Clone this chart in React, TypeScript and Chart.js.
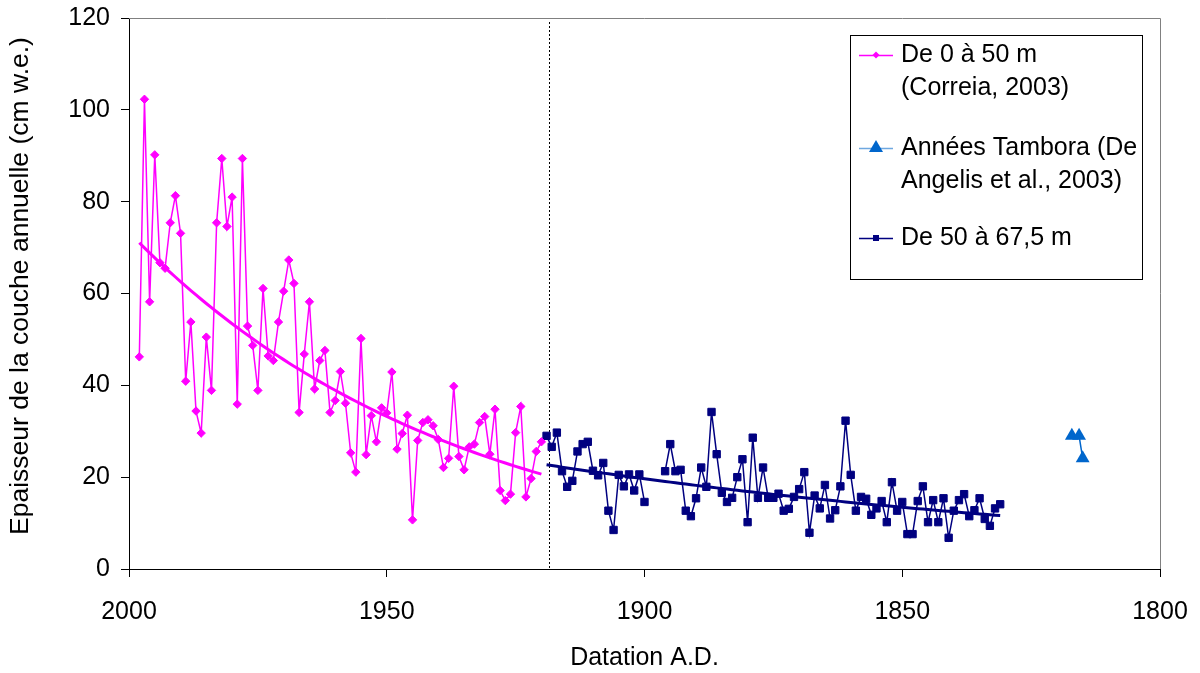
import React, { useEffect, useRef } from 'react';
import { Chart, registerables } from 'chart.js';

Chart.register(...registerables);

// ---------- DATA ----------
const magentaYears = [
  1998, 1997, 1996, 1995, 1994, 1993, 1992, 1991, 1990, 1989,
  1988, 1987, 1986, 1985, 1984, 1983, 1982, 1981, 1980, 1979,
  1978, 1977, 1976, 1975, 1974, 1973, 1972, 1971, 1970, 1969,
  1968, 1967, 1966, 1965, 1964, 1963, 1962, 1961, 1960, 1959,
  1958, 1957, 1956, 1955, 1954, 1953, 1952, 1951, 1950, 1949,
  1948, 1947, 1946, 1945, 1944, 1943, 1942, 1941, 1940, 1939,
  1938, 1937, 1936, 1935, 1934, 1933, 1932, 1931, 1930, 1929,
  1928, 1927, 1926, 1925, 1924, 1923, 1922, 1921, 1920,
];
const magentaValues = [
  46.2, 102.3, 58.2, 90.2, 66.7, 65.5, 75.4, 81.3, 73.1, 40.9,
  53.8, 34.4, 29.6, 50.5, 38.9, 75.4, 89.4, 74.6, 81.0, 35.9,
  89.4, 52.9, 48.7, 38.9, 61.1, 46.4, 45.4, 53.8, 60.5, 67.3,
  62.2, 34.1, 46.8, 58.2, 39.2, 45.4, 47.6, 34.1, 36.7, 43.0,
  36.1, 25.3, 21.1, 50.2, 24.9, 33.4, 27.7, 35.1, 34.0, 42.9,
  26.1, 29.5, 33.5, 10.7, 28.0, 31.9, 32.5, 31.2, 28.2, 22.1,
  24.1, 39.8, 24.5, 21.6, 26.6, 27.2, 31.9, 33.2, 25.0, 34.8,
  17.1, 14.9, 16.3, 29.7, 35.4, 15.7, 19.7, 25.6, 27.7,
];

const navyYears = [
  1919, 1918, 1917, 1916, 1915, 1914, 1913, 1912, 1911, 1910,
  1909, 1908, 1907, 1906, 1905, 1904, 1903, 1902, 1901, 1900,
  1899, 1898, 1897, 1896, 1895, 1894, 1893, 1892, 1891, 1890,
  1889, 1888, 1887, 1886, 1885, 1884, 1883, 1882, 1881, 1880,
  1879, 1878, 1877, 1876, 1875, 1874, 1873, 1872, 1871, 1870,
  1869, 1868, 1867, 1866, 1865, 1864, 1863, 1862, 1861, 1860,
  1859, 1858, 1857, 1856, 1855, 1854, 1853, 1852, 1851, 1850,
  1849, 1848, 1847, 1846, 1845, 1844, 1843, 1842, 1841, 1840,
  1839, 1838, 1837, 1836, 1835, 1834, 1833, 1832, 1831,
];
const navyValues: (number | null)[] = [
  29.0, 26.6, 29.7, 21.3, 17.9, 19.2, 25.6, 27.2, 27.7, 21.4,
  20.4, 23.1, 12.7, 8.5, 20.5, 18.0, 20.6, 17.1, 20.6, 14.6,
  null, null, null, 21.3, 27.2, 21.3, 21.6, 12.7, 11.5, 15.4,
  22.1, 17.9, 34.2, 25.0, 16.6, 14.6, 15.5, 20.0, 23.9, 10.2,
  28.6, 15.5, 22.1, 15.5, 15.5, 16.4, 12.7, 13.1, 15.7, 17.4,
  21.1, 7.9, 16.0, 13.2, 18.3, 11.0, 12.8, 18.0, 32.3, 20.5,
  12.7, 15.7, 15.3, 11.8, 13.2, 14.8, 10.2, 18.9, 12.7, 14.6,
  7.6, 7.6, 14.8, 18.0, 10.2, 15.0, 10.2, 15.4, 6.8, 12.7,
  15.0, 16.3, 11.5, 12.8, 15.4, 10.9, 9.4, 13.2, 14.1,
];

const tamboraYears = [1817.1, 1815.7, 1815.0];
const tamboraValues = [29.0, 29.0, 24.1];

const dividerYear = 1918.5;

const xTicks = [2000, 1950, 1900, 1850, 1800];
const yTicks = [0, 20, 40, 60, 80, 100, 120];

const legendLabels = [
  ['De 0 à 50 m', '(Correia, 2003)'],
  ['Années Tambora (De', 'Angelis et al., 2003)'],
  ['De 50 à 67,5 m'],
];

const xTitle = 'Datation A.D.';
const yTitle = 'Epaisseur de la couche annuelle (cm w.e.)';

const MAGENTA = '#FF00FF';
const NAVY = '#000080';
const BLUE = '#0066CC';
const FONT = '"Liberation Sans", Arial, sans-serif';

// ---------- helpers ----------
function toPoints(xs: number[], ys: (number | null)[]) {
  return xs.map((x, i) => ({ x, y: ys[i] }));
}

// exponential least-squares trend (as a spreadsheet trendline)
function expTrend(xs: number[], ys: (number | null)[]) {
  const pts = xs
    .map((x, i) => [x, ys[i]] as [number, number | null])
    .filter((p) => p[1] != null && (p[1] as number) > 0) as [number, number][];
  const n = pts.length;
  const mx = pts.reduce((s, p) => s + p[0], 0) / n;
  let sx = 0, sy = 0, sxx = 0, sxy = 0;
  for (const [x0, y] of pts) {
    const x = x0 - mx;
    const ly = Math.log(y);
    sx += x; sy += ly; sxx += x * x; sxy += x * ly;
  }
  const b = (n * sxy - sx * sy) / (n * sxx - sx * sx);
  const a = (sy - b * sx) / n;
  return pts.map(([x]) => ({ x, y: Math.exp(a + b * (x - mx)) }));
}

const framePlugin = {
  id: 'frameAndDivider',
  beforeDatasetsDraw(chart: any) {
    const { ctx, chartArea } = chart;
    const { left, right, top, bottom } = chartArea;
    ctx.save();
    // plot area border (top and right, grey)
    ctx.strokeStyle = '#808080';
    ctx.lineWidth = 1;
    ctx.beginPath();
    ctx.moveTo(left, top + 0.5);
    ctx.lineTo(right + 0.5, top + 0.5);
    ctx.lineTo(right + 0.5, bottom);
    ctx.stroke();
    // dotted divider
    const x = Math.round(chart.scales.x.getPixelForValue(dividerYear)) + 0.5;
    ctx.strokeStyle = '#000';
    ctx.setLineDash([2, 2]);
    ctx.beginPath();
    ctx.moveTo(x, top + 4);
    ctx.lineTo(x, bottom);
    ctx.stroke();
    ctx.restore();
  },
  afterDraw(chart: any) {
    // y axis title
    const ctx = chart.ctx;
    ctx.save();
    ctx.translate(21, 286);
    ctx.rotate(-Math.PI / 2);
    ctx.font = `26.5px ${FONT}`;
    ctx.fillStyle = '#000';
    ctx.textAlign = 'center';
    ctx.textBaseline = 'middle';
    ctx.fillText(yTitle, 0, 0);
    ctx.restore();
  },
};

const legendPlugin = {
  id: 'boxLegend',
  afterDraw(chart: any) {
    const ctx = chart.ctx;
    ctx.save();
    const bx = 850, by = 35, bw = 292, bh = 244;
    ctx.fillStyle = '#fff';
    ctx.fillRect(bx, by, bw, bh);
    ctx.strokeStyle = '#000';
    ctx.lineWidth = 1;
    ctx.strokeRect(bx + 0.5, by + 0.5, bw, bh);

    const rows = [55, 148, 238];
    const colors = [MAGENTA, BLUE, NAVY];
    const lineColors = [MAGENTA, '#6FA8E0', NAVY];
    const lineH = 33;
    const x0 = 859, x1 = 893, xm = 876, tx = 901;
    ctx.font = `25px ${FONT}`;
    ctx.textBaseline = 'middle';
    ctx.textAlign = 'left';
    rows.forEach((y, i) => {
      ctx.strokeStyle = lineColors[i];
      ctx.lineWidth = 1.5;
      ctx.beginPath();
      ctx.moveTo(x0, y + 0.5);
      ctx.lineTo(x1, y + 0.5);
      ctx.stroke();
      ctx.fillStyle = colors[i];
      ctx.beginPath();
      if (i === 0) {
        ctx.moveTo(xm, y - 3.5); ctx.lineTo(xm + 3.5, y); ctx.lineTo(xm, y + 3.5); ctx.lineTo(xm - 3.5, y);
      } else if (i === 1) {
        ctx.moveTo(xm, y - 8); ctx.lineTo(xm + 7, y + 4); ctx.lineTo(xm - 7, y + 4);
      } else {
        ctx.rect(xm - 3, y - 3, 6, 6);
      }
      ctx.closePath();
      ctx.fill();
      ctx.fillStyle = '#000';
      legendLabels[i].forEach((t, k) => ctx.fillText(t, tx, y + k * lineH));
    });
    ctx.restore();
  },
};

export default function App() {
  const ref = useRef<HTMLCanvasElement>(null);

  useEffect(() => {
    if (!ref.current) return;
    const chart = new Chart(ref.current, {
      type: 'line',
      data: {
        datasets: [
          {
            label: 'trend1',
            data: expTrend(magentaYears, magentaValues),
            borderColor: MAGENTA,
            borderWidth: 3,
            pointRadius: 0,
          },
          {
            label: 'trend2',
            data: expTrend(navyYears, navyValues),
            borderColor: NAVY,
            borderWidth: 3,
            pointRadius: 0,
          },
          {
            label: legendLabels[0].join(' '),
            data: toPoints(magentaYears, magentaValues),
            borderColor: MAGENTA,
            backgroundColor: MAGENTA,
            borderWidth: 1.5,
            pointStyle: 'rectRot',
            pointRadius: 4.2,
            pointBorderWidth: 1,
          },
          {
            label: legendLabels[1].join(' '),
            data: toPoints(tamboraYears, tamboraValues),
            borderColor: BLUE,
            backgroundColor: BLUE,
            borderWidth: 1.5,
            pointStyle: 'triangle',
            pointRadius: 8,
            pointBorderWidth: 0,
          },
          {
            label: legendLabels[2].join(' '),
            data: toPoints(navyYears, navyValues),
            borderColor: NAVY,
            backgroundColor: NAVY,
            borderWidth: 1.5,
            pointStyle: 'rect',
            pointRadius: 5.2,
            pointBorderWidth: 1,
            spanGaps: false,
          },
        ],
      } as any,
      options: {
        responsive: false,
        animation: false,
        devicePixelRatio: 1,
        layout: { padding: { top: 18, right: 40, bottom: 0, left: 0 } },
        plugins: {
          legend: { display: false },
          tooltip: { enabled: false },
        },
        elements: { line: { tension: 0 } },
        scales: {
          x: {
            type: 'linear',
            min: 1800,
            max: 2000,
            reverse: true,
            afterBuildTicks: (s: any) => {
              s.ticks = xTicks.map((v) => ({ value: v }));
            },
            afterFit: (s: any) => {
              s.height = 104;
              s.paddingLeft = 0;
              s.paddingRight = 0;
            },
            ticks: {
              color: '#000',
              font: { size: 25, family: FONT },
              padding: 20,
              maxRotation: 0,
              autoSkip: false,
              callback: (v: any) => String(v),
            },
            grid: { drawOnChartArea: false, drawTicks: true, tickLength: 8, color: '#000' },
            border: { display: true, color: '#000', width: 1 },
            title: {
              display: true,
              text: xTitle,
              color: '#000',
              font: { size: 25, family: FONT },
              padding: { top: 0, bottom: 0 },
            },
          },
          y: {
            type: 'linear',
            min: 0,
            max: 120,
            afterBuildTicks: (s: any) => {
              s.ticks = yTicks.map((v) => ({ value: v }));
            },
            afterFit: (s: any) => {
              s.width = 129;
              s.paddingTop = 0;
              s.paddingBottom = 0;
            },
            ticks: {
              color: '#000',
              font: { size: 25, family: FONT },
              padding: 11,
              callback: (v: any) => String(v),
            },
            grid: { drawOnChartArea: false, drawTicks: true, tickLength: 8, color: '#000' },
            border: { display: true, color: '#000', width: 1 },
            title: { display: false },
          },
        },
      } as any,
      plugins: [framePlugin, legendPlugin],
    });
    return () => chart.destroy();
  }, []);

  return (
    <div style={{ position: 'absolute', left: 0, top: 0, width: 1200, height: 673, background: '#fff' }}>
      <canvas ref={ref} width={1200} height={673} style={{ display: 'block', width: 1200, height: 673 }} />
    </div>
  );
}
